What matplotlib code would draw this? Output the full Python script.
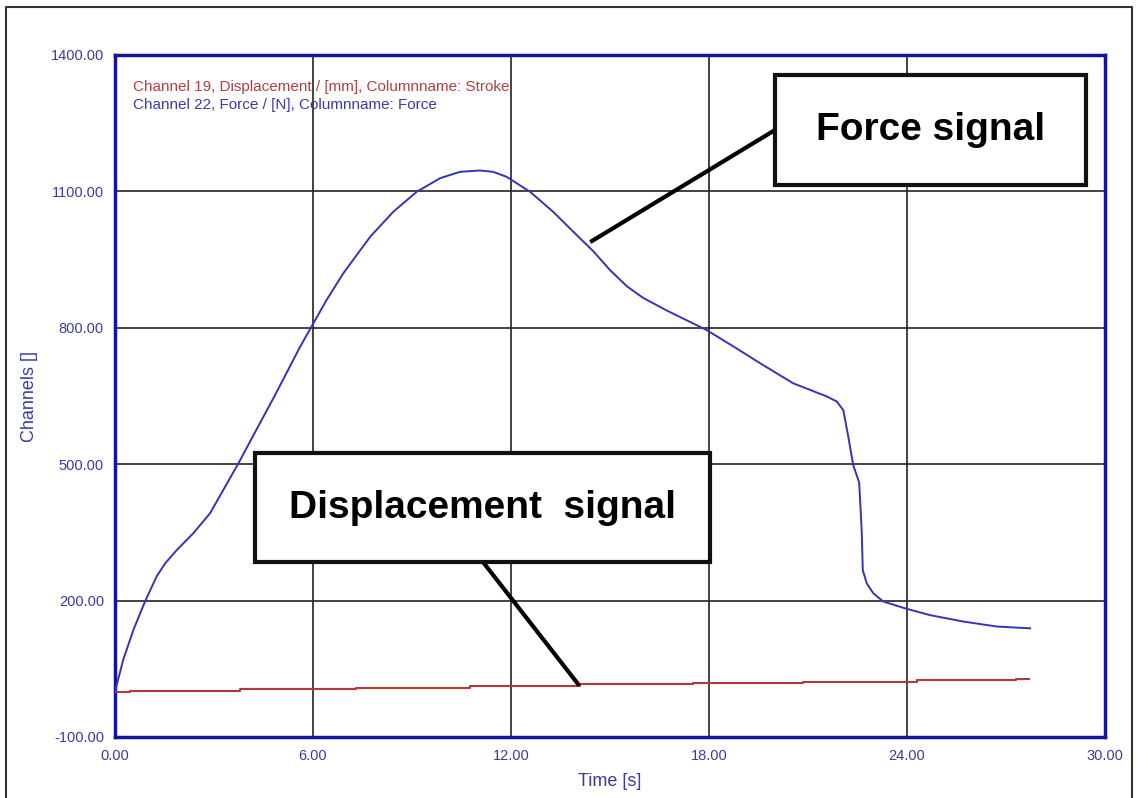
import matplotlib.pyplot as plt
from matplotlib.patches import Rectangle
from matplotlib.lines import Line2D

plt.rcParams['font.family'] = ['Liberation Sans', 'DejaVu Sans']

# force channel (time [s], force [N])
force_t = [0, 0.25, 0.56, 0.91, 1.26, 1.52, 1.87, 2.37, 2.88, 3.74, 4.39, 4.85,
           5.6, 5.91, 6.41, 6.92, 7.73, 8.43, 9.14, 9.85, 10.45, 11.06, 11.46,
           11.87, 12.58, 13.28, 13.99, 14.5, 15.0, 15.5, 16.0, 16.72, 17.93,
           18.74, 19.55, 20.55, 21.57, 21.87, 22.07, 22.22, 22.37, 22.55,
           22.6, 22.63, 22.66, 22.78, 22.98, 23.28, 23.94, 24.7, 25.7, 26.72,
           27.73]
force_v = [0, 70, 136, 198, 253, 282, 311, 348, 392, 502, 590, 652,
           757, 797, 861, 920, 1000, 1055, 1099, 1129, 1143, 1146, 1143,
           1132, 1099, 1055, 1004, 968, 927, 892, 866, 838, 795,
           759, 722, 678, 649, 638, 619, 561, 498, 460,
           392, 348, 267, 238, 216, 198, 183, 168, 154, 143,
           139]

# displacement channel, stepped
disp_t = [0, 0.45, 3.8, 7.3, 10.75, 14.1, 17.5, 20.85, 24.3, 27.3, 27.7]
disp_v = [0, 2, 5, 8.5, 12, 15.5, 19, 22, 25.5, 28.5, 28.5]

x_ticks = [0, 6, 12, 18, 24, 30]
y_ticks = [-100, 200, 500, 800, 1100, 1400]

W, H = 1137, 798
fig = plt.figure(figsize=(W / 100, H / 100), dpi=100)


def fx(px):
    return px / W


def fy(py):
    return 1 - py / H


ax = fig.add_axes([fx(115), fy(737), fx(1105) - fx(115), fy(55) - fy(737)])

navy = '#14149a'
lbl = '#3a3aa8'
ax.plot(force_t, force_v, color='#3434b4', lw=1.4, zorder=3)
ax.plot(disp_t, disp_v, color='#b03a3a', lw=1.5, drawstyle='steps-post', zorder=3)

ax.set_xlim(0, 30)
ax.set_ylim(-100, 1400)
ax.set_xticks(x_ticks)
ax.set_yticks(y_ticks)
ax.set_xticklabels([f'{v:.2f}' for v in x_ticks])
ax.set_yticklabels([f'{v:.2f}' for v in y_ticks])
ax.tick_params(length=0, labelsize=10.5, labelcolor=lbl)
ax.tick_params(axis='x', pad=9)
ax.tick_params(axis='y', pad=8)
ax.grid(True, color='#222222', lw=1.2)
for s in ax.spines.values():
    s.set_color(navy)
    s.set_linewidth(2.5)

ax.set_xlabel('Time [s]', color=lbl, fontsize=13)
ax.xaxis.set_label_coords(0.5, -0.053)
ax.set_ylabel('Channels []', color=lbl, fontsize=13)
ax.yaxis.set_label_coords(-0.078, 0.5)

# channel legend text
ax.text(0.0185, 0.953, 'Channel 19, Displacement / [mm], Columnname: Stroke',
        transform=ax.transAxes, color='#b04040', fontsize=11, va='center')
ax.text(0.0185, 0.926, 'Channel 22, Force / [N], Columnname: Force',
        transform=ax.transAxes, color=lbl, fontsize=11, va='center')

# callout boxes
for (x0, y0, x1, y1), label in [((775, 75, 1086, 185), 'Force signal'),
                                ((255, 453, 710, 562), 'Displacement  signal')]:
    fig.add_artist(Rectangle((fx(x0), fy(y1)), fx(x1) - fx(x0), fy(y0) - fy(y1),
                             transform=fig.transFigure, facecolor='white',
                             edgecolor='#111111', lw=3, zorder=5))
    fig.text(fx((x0 + x1) / 2), fy((y0 + y1) / 2), label, fontsize=28,
             fontweight='bold', ha='center', va='center', zorder=6)

for (ax0, ay0), (ax1, ay1) in [((592, 241), (775, 130)), ((483, 562), (578, 684))]:
    fig.add_artist(Line2D([fx(ax0), fx(ax1)], [fy(ay0), fy(ay1)],
                          transform=fig.transFigure, color='black', lw=3, zorder=4))

# outer frame
fig.add_artist(Line2D([fx(6), fx(6), fx(1132), fx(1132)],
                      [fy(800), fy(7), fy(7), fy(800)],
                      transform=fig.transFigure, color='#333333', lw=1.5))

fig.savefig('out.png', dpi=100)
